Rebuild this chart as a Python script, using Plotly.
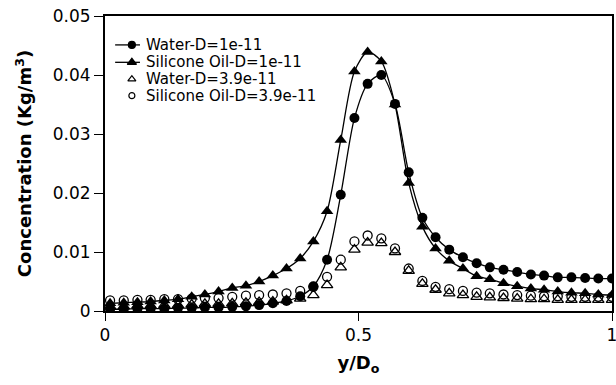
import plotly.graph_objects as go

# ---- data ----
y_over_D = [0.010, 0.037, 0.064, 0.090, 0.117, 0.144, 0.171, 0.197, 0.224, 0.251,
            0.278, 0.304, 0.331, 0.358, 0.385, 0.411, 0.438, 0.465, 0.492, 0.518,
            0.545, 0.572, 0.599, 0.626, 0.652, 0.679, 0.706, 0.733, 0.759, 0.786,
            0.813, 0.840, 0.866, 0.893, 0.920, 0.947, 0.973, 1.000]

water_1e11 = [0.0003, 0.0003, 0.0004, 0.0004, 0.0004, 0.0005, 0.0005, 0.0006, 0.0006, 0.0007,
              0.0008, 0.0010, 0.0013, 0.0017, 0.0025, 0.0042, 0.0087, 0.0197, 0.0327, 0.0385,
              0.0400, 0.0351, 0.0235, 0.0158, 0.0125, 0.0104, 0.0091, 0.0081, 0.0074, 0.0070,
              0.0066, 0.0062, 0.0060, 0.0057, 0.0057, 0.0056, 0.0055, 0.0055]

silicone_1e11 = [0.0013, 0.0014, 0.0015, 0.0016, 0.0018, 0.0020, 0.0024, 0.0028, 0.0033, 0.0039,
                 0.0043, 0.0050, 0.0060, 0.0072, 0.0089, 0.0118, 0.0169, 0.0290, 0.0406, 0.0439,
                 0.0423, 0.0350, 0.0217, 0.0143, 0.0106, 0.0085, 0.0072, 0.0059, 0.0054, 0.0047,
                 0.0042, 0.0038, 0.0036, 0.0033, 0.0031, 0.0030, 0.0028, 0.0027]

water_39e11 = [0.0008, 0.0008, 0.0009, 0.0009, 0.0010, 0.0010, 0.0011, 0.0012, 0.0012, 0.0013,
               0.0014, 0.0015, 0.0016, 0.0018, 0.0021, 0.0027, 0.0044, 0.0074, 0.0104, 0.0116,
               0.0115, 0.0100, 0.0068, 0.0046, 0.0036, 0.0030, 0.0027, 0.0024, 0.0023, 0.0022,
               0.0021, 0.0020, 0.0020, 0.0019, 0.0019, 0.0019, 0.0019, 0.0019]

silicone_39e11 = [0.0018, 0.0018, 0.0019, 0.0019, 0.0020, 0.0020, 0.0021, 0.0022, 0.0022, 0.0024,
                  0.0026, 0.0027, 0.0028, 0.0030, 0.0034, 0.0041, 0.0058, 0.0087, 0.0118, 0.0128,
                  0.0123, 0.0106, 0.0072, 0.0051, 0.0041, 0.0037, 0.0034, 0.0031, 0.0030, 0.0028,
                  0.0027, 0.0026, 0.0025, 0.0025, 0.0024, 0.0024, 0.0024, 0.0024]

series_names = ["Water-D=1e-11", "Silicone Oil-D=1e-11", "Water-D=3.9e-11", "Silicone Oil-D=3.9e-11"]
x_ticks = [0, 0.5, 1]
x_tick_labels = ["0", "0.5", "1"]
y_ticks = [0, 0.01, 0.02, 0.03, 0.04, 0.05]
y_tick_labels = ["0", "0.01", "0.02", "0.03", "0.04", "0.05"]

FONT = "DejaVu Sans, Verdana, sans-serif"

fig = go.Figure()

# open-marker series (no lines)
fig.add_trace(go.Scatter(x=y_over_D, y=water_39e11, mode="markers", name=series_names[2],
                         marker=dict(symbol="triangle-up-open", size=10, color="black",
                                     line=dict(width=1.3, color="black")), showlegend=False))
fig.add_trace(go.Scatter(x=y_over_D, y=silicone_39e11, mode="markers", name=series_names[3],
                         marker=dict(symbol="circle-open", size=9, color="black",
                                     line=dict(width=1.3, color="black")), showlegend=False))
# filled series with smooth lines
fig.add_trace(go.Scatter(x=y_over_D, y=water_1e11, mode="lines+markers", name=series_names[0],
                         line=dict(color="black", width=1.3, shape="spline", smoothing=0.8),
                         marker=dict(symbol="circle", size=10, color="black"), showlegend=False))
fig.add_trace(go.Scatter(x=y_over_D, y=silicone_1e11, mode="lines+markers", name=series_names[1],
                         line=dict(color="black", width=1.3, shape="spline", smoothing=0.8),
                         marker=dict(symbol="triangle-up", size=11, color="black"), showlegend=False))

# ---- manual legend (keys on an overlay axis in 0..1 units of the plot area) ----
leg_rows = [0.902, 0.843, 0.786, 0.730]
leg_key_x = 0.053
leg_line = (0.020, 0.069)
leg_text_x = 0.077
leg_symbols = ["circle", "triangle-up", "triangle-up-open", "circle-open"]
leg_sizes = [7, 8, 7, 6]
leg_has_line = [True, True, False, False]

for i in range(4):
    if leg_has_line[i]:
        fig.add_shape(type="line", xref="paper", yref="paper",
                      x0=leg_line[0], x1=leg_line[1], y0=leg_rows[i], y1=leg_rows[i],
                      line=dict(color="black", width=1.3))
    fig.add_trace(go.Scatter(x=[leg_key_x], y=[leg_rows[i]], mode="markers",
                             xaxis="x2", yaxis="y2", showlegend=False, hoverinfo="skip",
                             marker=dict(symbol=leg_symbols[i], size=leg_sizes[i], color="black",
                                         line=dict(width=1.2, color="black"))))
    fig.add_annotation(x=leg_text_x, y=leg_rows[i], xref="paper", yref="paper",
                       text=series_names[i], showarrow=False, xanchor="left", yanchor="middle",
                       font=dict(family=FONT, size=15, color="black"))

fig.update_layout(
    width=616, height=385,
    margin=dict(l=105, r=4, t=16, b=74),
    paper_bgcolor="white", plot_bgcolor="white",
    font=dict(family=FONT, size=15, color="black"),
    showlegend=False,
    xaxis=dict(range=[0, 1], tickvals=x_ticks, ticktext=x_tick_labels,
               ticks="outside", ticklen=8, tickwidth=1, tickcolor="black",
               showline=True, linewidth=2, linecolor="black", mirror=True,
               showgrid=False, zeroline=False, automargin=False,
               ticklabeloverflow="allow",
               tickfont=dict(family=FONT, size=17),
               title=dict(text="y/D<sub>o</sub>", font=dict(family=FONT, size=18, weight="bold"),
                          standoff=12)),
    yaxis=dict(range=[0, 0.05], tickvals=y_ticks, ticktext=y_tick_labels,
               ticks="outside", ticklen=9, tickwidth=1, tickcolor="black",
               showline=True, linewidth=2, linecolor="black", mirror=True,
               showgrid=False, zeroline=False, automargin=False,
               ticklabeloverflow="allow",
               tickfont=dict(family=FONT, size=17),
               title=dict(text="Concentration (Kg/m<sup>3</sup>)",
                          font=dict(family=FONT, size=18, weight="bold"), standoff=16)),
    xaxis2=dict(range=[0, 1], overlaying="x", visible=False, fixedrange=True),
    yaxis2=dict(range=[0, 1], overlaying="y", visible=False, fixedrange=True),
)

fig.write_html("out.html", config={"displayModeBar": False},
               post_script="document.body.style.margin='0px';document.body.style.overflow='hidden';")
